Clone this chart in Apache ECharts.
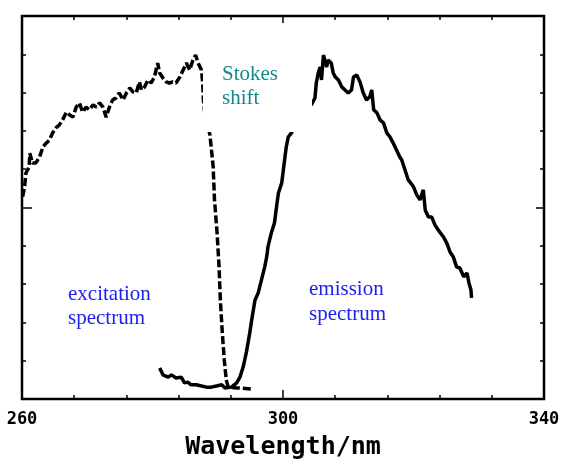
<!DOCTYPE html>
<html>
<head>
<meta charset="utf-8">
<script src="https://cdn.jsdelivr.net/npm/echarts@6/dist/echarts.min.js"></script>
<style>html,body{margin:0;padding:0;background:#fff;}#c{width:565px;height:466px;}</style>
</head>
<body>
<div id="c"></div>
<script>
// Tick labels on the wavelength axis (nm)
const xTickLabels = [260, 300, 340];
const xMin = 260, xMax = 340;
const yMin = 0, yMax = 10;

// Excitation spectrum (dashed) : [wavelength nm, intensity a.u.]
const excitation = [
  [260.1,5.28],[260.4,5.54],[260.6,5.90],[261.1,6.06],[261.2,6.42],[261.6,6.16],[262.1,6.16],[262.7,6.32],
  [263.2,6.58],[263.7,6.68],[264.2,6.76],[264.7,6.95],[265.2,7.08],[265.7,7.15],[266.2,7.28],[266.8,7.49],
  [267.3,7.42],[267.8,7.36],[268.3,7.62],[268.8,7.73],[269.3,7.49],[269.8,7.62],[270.3,7.55],[270.9,7.68],
  [271.4,7.62],[271.9,7.73],[272.4,7.62],[272.9,7.36],[273.4,7.62],[273.9,7.81],[274.4,7.86],[274.9,7.99],
  [275.5,7.81],[276.0,7.99],[276.5,8.12],[277.0,8.02],[277.5,7.99],[278.0,8.28],[278.3,8.07],[278.8,8.15],
  [279.3,8.33],[279.8,8.25],[280.3,8.41],[280.8,8.77],[281.1,8.51],[281.6,8.38],[282.1,8.28],[282.6,8.25],
  [283.1,8.28],[283.6,8.25],[284.2,8.41],[284.7,8.59],[285.2,8.77],[285.7,8.59],[286.2,8.85],[286.6,8.98],
  [287.0,8.77],[287.5,8.59],[287.7,8.25],[287.8,7.81],[288.0,7.47],[288.8,6.90],[289.3,6.06],[289.5,5.20],
  [289.9,4.33],[290.2,3.45],[290.4,2.58],[290.7,1.72],[291.0,1.02],[291.3,0.50],[291.6,0.31],[293.1,0.29],
  [295.2,0.26]
];

// Emission spectrum (solid) : [wavelength nm, intensity a.u.]
const emission = [
  [281.1,0.81],[281.6,0.63],[282.4,0.57],[282.9,0.63],[283.6,0.55],[284.4,0.57],[284.9,0.42],[285.4,0.44],
  [285.9,0.37],[286.7,0.37],[287.5,0.34],[288.3,0.31],[289.0,0.31],[289.8,0.34],[290.6,0.37],[291.1,0.29],
  [292.1,0.31],[292.9,0.42],[293.4,0.57],[293.9,0.84],[294.4,1.23],[294.9,1.72],[295.2,2.06],[295.7,2.58],
  [296.2,2.77],[296.7,3.11],[297.2,3.45],[297.5,3.71],[297.7,3.97],[298.2,4.33],[298.7,4.60],[299.0,5.01],
  [299.3,5.38],[299.8,5.64],[300.0,5.90],[300.3,6.32],[300.5,6.58],[300.8,6.84],[301.3,6.95],[302.1,7.23],
  [302.8,7.42],[303.6,7.55],[304.4,7.70],[304.9,7.86],[305.1,8.25],[305.4,8.51],[305.7,8.67],[305.9,8.33],
  [306.2,8.98],[306.4,9.03],[306.7,8.67],[306.9,8.85],[307.4,8.77],[307.7,8.51],[308.0,8.41],[308.5,8.33],
  [309.0,8.15],[309.5,8.07],[310.0,7.99],[310.5,8.07],[310.8,8.41],[311.3,8.46],[311.8,8.28],[312.3,7.99],
  [312.8,7.81],[313.3,7.89],[313.6,8.07],[313.9,7.55],[314.4,7.47],[314.9,7.28],[315.4,7.21],[315.9,6.95],
  [316.4,6.84],[316.9,6.68],[317.4,6.50],[317.9,6.32],[318.2,6.24],[318.7,5.98],[319.2,5.72],[320.0,5.54],
  [320.5,5.33],[321.0,5.20],[321.5,5.46],[321.8,4.93],[322.3,4.75],[322.8,4.75],[323.3,4.54],[323.8,4.41],
  [324.6,4.23],[325.1,4.07],[325.6,3.84],[326.1,3.71],[326.6,3.45],[327.1,3.42],[327.7,3.19],[328.2,3.29],
  [328.5,3.03],[328.8,2.85],[328.9,2.64]
];

const chart = echarts.init(document.getElementById('c'), null, {renderer: 'canvas'});

const noLine = {show: false, onZero: false};
const span = xMax - xMin; // offset tick axes run 0..span

function tickAxis(pos, interval, len) {
  return {
    type: 'value', position: pos, offset: 0, min: 0, max: span, interval: interval,
    axisLine: noLine, splitLine: {show: false}, axisLabel: {show: false},
    axisTick: {show: true, inside: true, length: len, lineStyle: {color: '#000', width: 1.5}}
  };
}
function yTickAxis(pos, interval, len) {
  return {
    type: 'value', position: pos, offset: 0, min: yMin, max: yMax, interval: interval,
    axisLine: noLine, splitLine: {show: false}, axisLabel: {show: false},
    axisTick: {show: true, inside: true, length: len, lineStyle: {color: '#000', width: 1.5}}
  };
}

chart.setOption({
  animation: false,
  backgroundColor: '#fff',
  grid: {left: 22, right: 21, top: 16, bottom: 67, show: true, borderColor: '#000', borderWidth: 2.5, backgroundColor: 'transparent'},
  xAxis: [
    {
      type: 'value', position: 'bottom', offset: 0, min: xMin, max: xMax, interval: 20,
      axisLine: noLine, axisTick: {show: false}, splitLine: {show: false},
      axisLabel: {
        show: true, margin: 12, color: '#000', fontFamily: 'DejaVu Sans Mono', fontWeight: 'bold', fontSize: 17,
        formatter: v => xTickLabels.indexOf(v) >= 0 ? String(v) : ''
      },
      name: 'Wavelength/nm', nameLocation: 'middle', nameGap: 36,
      nameTextStyle: {color: '#000', fontFamily: 'DejaVu Sans Mono', fontWeight: 'bold', fontSize: 25}
    },
    tickAxis('bottom', 8, 4),
    tickAxis('bottom', 40, 9),
    tickAxis('top', 8, 4),
    tickAxis('top', 40, 7)
  ],
  yAxis: [
    yTickAxis('left', 1, 4),
    yTickAxis('right', 1, 4),
    yTickAxis('left', 5, 10),
    yTickAxis('right', 5, 8)
  ],
  series: [
    {
      name: 'excitation', type: 'line', xAxisIndex: 0, yAxisIndex: 0, data: excitation,
      symbol: 'none', smooth: false,
      lineStyle: {color: '#000', width: 3.5, type: [8, 3]}
    },
    {
      name: 'emission', type: 'line', xAxisIndex: 0, yAxisIndex: 0, data: emission,
      symbol: 'none', smooth: false,
      lineStyle: {color: '#000', width: 3.5}
    }
  ],
  graphic: [
    {type: 'rect', z: 100, shape: {x: 203, y: 52, width: 109, height: 80}, style: {fill: '#fff'}},
    {type: 'text', z: 101, left: 222, top: 62,
     style: {text: 'Stokes\nshift', fill: '#138a8a', font: '21px "Liberation Serif"', lineHeight: 24}},
    {type: 'text', z: 101, left: 68, top: 282,
     style: {text: 'excitation\nspectrum', fill: '#2020f0', font: '21px "Liberation Serif"', lineHeight: 24}},
    {type: 'text', z: 101, left: 309, top: 277,
     style: {text: 'emission\nspectrum', fill: '#2020f0', font: '21px "Liberation Serif"', lineHeight: 25}}
  ]
});
</script>
</body>
</html>
